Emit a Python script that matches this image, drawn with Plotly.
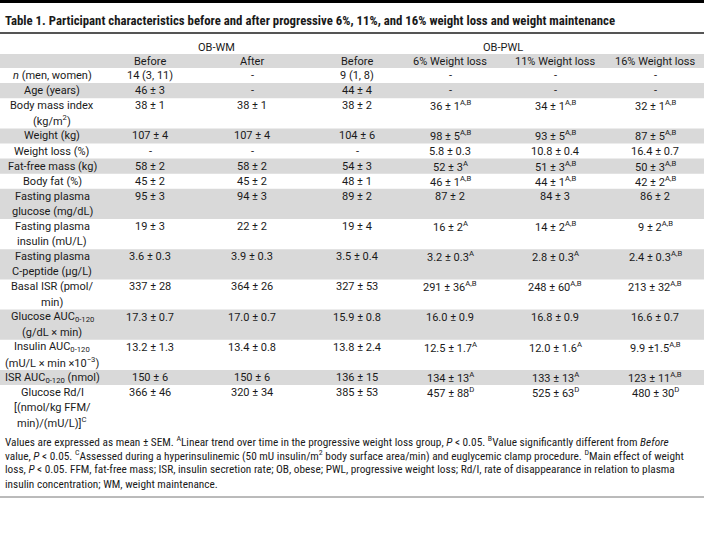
import plotly.graph_objects as go

# ---------------- data ----------------
title = ("Table 1. Participant characteristics before and after progressive 6%, 11%, "
         "and 16% weight loss and weight maintenance")
groups = ["OB-WM", "OB-PWL"]
col_headers = ["", "Before", "After", "Before", "6% Weight loss", "11% Weight loss", "16% Weight loss"]

row_labels = [
    "<i>n</i> (men, women)",
    "Age (years)",
    "Body mass index<br>(kg/m<sup>2</sup>)",
    "Weight (kg)",
    "Weight loss (%)",
    "Fat-free mass (kg)",
    "Body fat (%)",
    "Fasting plasma<br>glucose (mg/dL)",
    "Fasting plasma<br>insulin (mU/L)",
    "Fasting plasma<br>C-peptide (µg/L)",
    "Basal ISR (pmol/<br>min)",
    "Glucose AUC<sub>0-120</sub><br>(g/dL × min)",
    "Insulin AUC<sub>0-120</sub><br>(mU/L × min ×10<sup>−3</sup>)",
    "ISR AUC<sub>0-120</sub> (nmol)",
    "Glucose Rd/I<br>[(nmol/kg FFM/<br>min)/(mU/L)]<sup>C</sup>",
]
wm_before = ["14 (3, 11)", "46 ± 3", "38 ± 1", "107 ± 4", "-", "58 ± 2", "45 ± 2", "95 ± 3",
             "19 ± 3", "3.6 ± 0.3", "337 ± 28", "17.3 ± 0.7", "13.2 ± 1.3", "150 ± 6", "366 ± 46"]
wm_after = ["-", "-", "38 ± 1", "107 ± 4", "-", "58 ± 2", "45 ± 2", "94 ± 3",
            "22 ± 2", "3.9 ± 0.3", "364 ± 26", "17.0 ± 0.7", "13.4 ± 0.8", "150 ± 6", "320 ± 34"]
pwl_before = ["9 (1, 8)", "44 ± 4", "38 ± 2", "104 ± 6", "-", "54 ± 3", "48 ± 1", "89 ± 2",
              "19 ± 4", "3.5 ± 0.4", "327 ± 53", "15.9 ± 0.8", "13.8 ± 2.4", "136 ± 15", "385 ± 53"]
pwl_6 = ["-", "-", "36 ± 1<sup>A,B</sup>", "98 ± 5<sup>A,B</sup>", "5.8 ± 0.3", "52 ± 3<sup>A</sup>",
         "46 ± 1<sup>A,B</sup>", "87 ± 2", "16 ± 2<sup>A</sup>", "3.2 ± 0.3<sup>A</sup>",
         "291 ± 36<sup>A,B</sup>", "16.0 ± 0.9", "12.5 ± 1.7<sup>A</sup>", "134 ± 13<sup>A</sup>",
         "457 ± 88<sup>D</sup>"]
pwl_11 = ["-", "-", "34 ± 1<sup>A,B</sup>", "93 ± 5<sup>A,B</sup>", "10.8 ± 0.4", "51 ± 3<sup>A,B</sup>",
          "44 ± 1<sup>A,B</sup>", "84 ± 3", "14 ± 2<sup>A,B</sup>", "2.8 ± 0.3<sup>A</sup>",
          "248 ± 60<sup>A,B</sup>", "16.8 ± 0.9", "12.0 ± 1.6<sup>A</sup>", "133 ± 13<sup>A</sup>",
          "525 ± 63<sup>D</sup>"]
pwl_16 = ["-", "-", "32 ± 1<sup>A,B</sup>", "87 ± 5<sup>A,B</sup>", "16.4 ± 0.7", "50 ± 3<sup>A,B</sup>",
          "42 ± 2<sup>A,B</sup>", "86 ± 2", "9 ± 2<sup>A,B</sup>", "2.4 ± 0.3<sup>A,B</sup>",
          "213 ± 32<sup>A,B</sup>", "16.6 ± 0.7", "9.9 ±1.5<sup>A,B</sup>", "123 ± 11<sup>A,B</sup>",
          "480 ± 30<sup>D</sup>"]
value_cols = [wm_before, wm_after, pwl_before, pwl_6, pwl_11, pwl_16]

footnotes = [
    "Values are expressed as mean ± SEM. <sup>A</sup>Linear trend over time in the progressive weight loss group, "
    "<i>P</i> < 0.05. <sup>B</sup>Value significantly different from <i>Before</i>",
    "value, <i>P</i> < 0.05. <sup>C</sup>Assessed during a hyperinsulinemic (50 mU insulin/m<sup>2</sup> body "
    "surface area/min) and euglycemic clamp procedure. <sup>D</sup>Main effect of weight",
    "loss, <i>P</i> < 0.05. FFM, fat-free mass; ISR, insulin secretion rate; OB, obese; PWL, progressive "
    "weight loss; Rd/I, rate of disappearance in relation to plasma",
    "insulin concentration; WM, weight maintenance.",
]

# ---------------- layout constants ----------------
W, H = 704, 558
COL_X = [52, 150, 252, 357, 450, 555, 655]
GROUP_X = [216, 503]
LINE = 15.1
HEAD_TOP, HEAD_BOT = 54, 68
TITLE_Y = 20
RULE_Y = 33
GROUP_Y = 47
FOOT_Y0, FOOT_DY = 441, 14.4
BOTTOM_RULE_Y = 497
BAND = "#d9d9d9"
TXT = "#1a1a1a"
BODY_FONT = dict(family="Roboto, Arial, sans-serif", size=11, color=TXT)
COND = "Roboto Condensed, Roboto, sans-serif"

fig = go.Figure()
shapes = []
ann = []

def text(x, y, s, font, xanchor="center"):
    ann.append(dict(x=x, y=y, xref="x", yref="y", text=s, showarrow=False, borderpad=0,
                    xanchor=xanchor, yanchor="middle", font=font, align="center"))

# top black strip and title
shapes.append(dict(type="rect", xref="x", yref="y", x0=0, x1=W, y0=0, y1=3,
                   fillcolor="black", line=dict(width=0), layer="below"))
text(4, TITLE_Y, "<b>" + title + "</b>", dict(family=COND, size=12.8, color=TXT), xanchor="left")
shapes.append(dict(type="line", xref="x", yref="y", x0=0, x1=W, y0=RULE_Y, y1=RULE_Y,
                   line=dict(color="#555555", width=2)))

# group headers
for g, gx in zip(groups, GROUP_X):
    text(gx, GROUP_Y, g, BODY_FONT)

# column header band
shapes.append(dict(type="rect", xref="x", yref="y", x0=0, x1=W, y0=HEAD_TOP, y1=HEAD_BOT,
                   fillcolor=BAND, line=dict(width=0), layer="below"))
for cx, h in zip(COL_X, col_headers):
    if h:
        text(cx, (HEAD_TOP + HEAD_BOT) / 2, h, BODY_FONT)

# body rows (row height follows the number of label lines)
top = HEAD_BOT
for i, lab in enumerate(row_labels):
    lines = lab.split("<br>")
    h = len(lines) * LINE
    if i % 2 == 1:
        shapes.append(dict(type="rect", xref="x", yref="y", x0=0, x1=W, y0=top, y1=top + h,
                           fillcolor=BAND, line=dict(width=0), layer="below"))
    for k, ln in enumerate(lines):
        text(COL_X[0], top + (k + 0.5) * LINE, ln, BODY_FONT)
    for cx, col in zip(COL_X[1:], value_cols):
        text(cx, top + 0.5 * LINE, col[i], BODY_FONT)
    top += h

# footnotes
for k, fn in enumerate(footnotes):
    text(4, FOOT_Y0 + k * FOOT_DY, fn, dict(family=COND, size=11.3, color=TXT), xanchor="left")

shapes.append(dict(type="line", xref="x", yref="y", x0=0, x1=W, y0=BOTTOM_RULE_Y, y1=BOTTOM_RULE_Y,
                   line=dict(color="#777777", width=1)))

fig.update_layout(
    width=W, height=H, margin=dict(l=0, r=0, t=0, b=0),
    paper_bgcolor="white", plot_bgcolor="white",
    xaxis=dict(range=[0, W], visible=False, fixedrange=True),
    yaxis=dict(range=[H, 0], visible=False, fixedrange=True),
    shapes=shapes, annotations=ann, showlegend=False,
)
fig.write_html("out.html", config={"displayModeBar": False},
               post_script="document.body.style.margin='0';document.body.style.overflow='hidden';")
